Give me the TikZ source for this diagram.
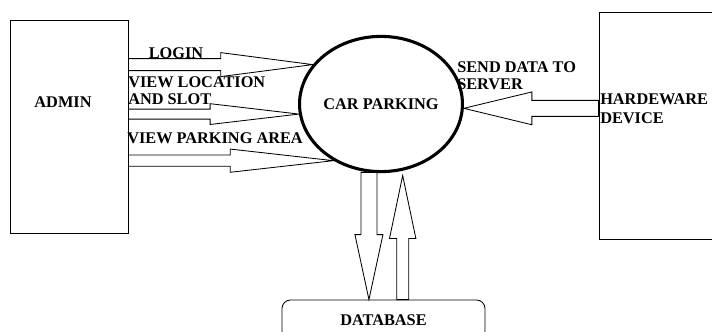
\documentclass[tikz,border=0pt]{standalone}
\usepackage{fontspec}
\setmainfont{Liberation Serif}
\usetikzlibrary{calc,shapes.geometric}

% hollow block arrow: start, tip, shaft half width, head half width, head length
\newcommand{\blockarrow}[5]{%
  \path ($(#2)!#5!(#1)$) coordinate (hb);
  \draw[flow] ($(#1)!#3!90:(#2)$) -- ($(hb)!#3!90:(#2)$) -- ($(hb)!#4!90:(#2)$) -- (#2)
    -- ($(hb)!#4!-90:(#2)$) -- ($(hb)!#3!-90:(#2)$) -- ($(#1)!#3!-90:(#2)$) -- cycle;
}

\begin{document}
\begin{tikzpicture}[
    font=\fontsize{11.6}{12.2}\selectfont\bfseries,
    box/.style={draw=black, line width=0.7pt, minimum width=2.95cm, minimum height=5.325cm},
    process/.style={draw=black, ellipse, line width=2.2pt, minimum width=3.7cm, minimum height=3.38cm, inner sep=0pt},
    store/.style={draw=black, line width=0.6pt, rounded corners=6pt, minimum width=5.075cm, minimum height=1cm},
    flow/.style={draw=black, line width=0.6pt, line join=miter},
    lbl/.style={align=left, inner sep=0pt}
]
\useasboundingbox (0,0) rectangle (17.8,8.275);

\node[box] (admin) at (1.725,5.1125) {};
\node (admintext) at (1.575,5.725) {ADMIN};

\node[box, minimum width=4.03cm, minimum height=5.675cm] (hw) at (16.99,5.1375) {};
\node[lbl, anchor=west] (hwtext) at (15.0,5.5625) {HARDEWARE\\[1.3pt]DEVICE};

\node[process] (park) at (9.525,5.675) {CAR PARKING};
\node[store] (db) at (9.5875,0.275) {DATABASE};

\node (loginlbl) at (4.4,6.95) {LOGIN};
\node[lbl, anchor=west] (viewlbl) at (3.2,6.0) {VIEW LOCATION\\AND SLOT};
\node[lbl, anchor=west] (arealbl) at (3.175,4.825) {VIEW PARKING AREA};
\node[lbl, anchor=west] (sendlbl) at (11.425,6.3875) {SEND DATA TO\\SERVER};

\blockarrow{admin.east |- park.150}{park.150}{0.15cm}{0.3cm}{2.3cm}
\blockarrow{admin.east |- park.187}{park.187}{0.125cm}{0.26cm}{2.22cm}
\blockarrow{admin.east |- park.230}{park.230}{0.14cm}{0.29cm}{2.58cm}
\blockarrow{hw.west |- park.357}{park.357}{0.2cm}{0.41cm}{1.7cm}
\blockarrow{park.260}{park.260 |- db.north}{0.2cm}{0.35cm}{1.625cm}
\coordinate (uptip) at ($(park.288)+(0,-0.12)$);
\blockarrow{uptip |- db.north}{uptip}{0.15cm}{0.33cm}{1.575cm}
\end{tikzpicture}
\end{document}
